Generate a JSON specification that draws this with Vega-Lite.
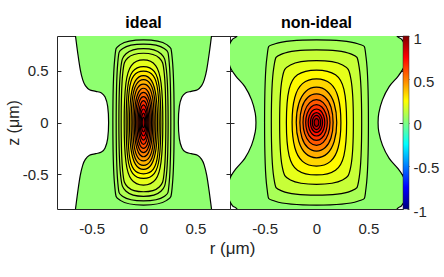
{
"$schema":"https://vega.github.io/schema/vega-lite/v6.json",
"autosize":{"type":"pad"},
"padding":{"left":5,"top":14,"right":5,"bottom":5},
"bounds":"flush",
"spacing":0,
"config":{"font":"Liberation Sans","view":{"stroke":null},
"axis":{"grid":false,"domainColor":"#262626","domainWidth":1,"tickColor":"#262626","tickSize":-4,"labelColor":"#262626","labelFontSize":15,"titleColor":"#262626","titleFontSize":16,"titleFontWeight":"normal","zindex":1},
"title":{"fontSize":16,"fontWeight":"bold","color":"#000000","offset":5,"anchor":"middle"}},
"resolve":{"scale":{"x":"independent","y":"independent"},"axis":{"x":"independent","y":"independent"}},
"datasets":{
"A":[
{"v":0.03,"i":0,"r":0,"z":0.92},{"v":0.03,"i":1,"r":-0.665,"z":0.9},{"v":0.03,"i":2,"r":-0.655,"z":0.833},{"v":0.03,"i":3,"r":-0.633,"z":0.667},{"v":0.03,"i":4,"r":-0.609,"z":0.51},{"v":0.03,"i":5,"r":-0.585,"z":0.41},{"v":0.03,"i":6,"r":-0.56,"z":0.355},{"v":0.03,"i":7,"r":-0.52,"z":0.316},{"v":0.03,"i":8,"r":-0.46,"z":0.3},{"v":0.03,"i":9,"r":-0.405,"z":0.285},{"v":0.03,"i":10,"r":-0.37,"z":0.245},{"v":0.03,"i":11,"r":-0.345,"z":0.155},{"v":0.03,"i":12,"r":-0.336,"z":0},{"v":0.03,"i":13,"r":-0.345,"z":-0.155},{"v":0.03,"i":14,"r":-0.37,"z":-0.245},{"v":0.03,"i":15,"r":-0.405,"z":-0.285},{"v":0.03,"i":16,"r":-0.46,"z":-0.3},{"v":0.03,"i":17,"r":-0.52,"z":-0.316},{"v":0.03,"i":18,"r":-0.56,"z":-0.355},{"v":0.03,"i":19,"r":-0.585,"z":-0.41},{"v":0.03,"i":20,"r":-0.609,"z":-0.51},{"v":0.03,"i":21,"r":-0.633,"z":-0.667},{"v":0.03,"i":22,"r":-0.655,"z":-0.833},{"v":0.03,"i":23,"r":-0.665,"z":-0.9},{"v":0.03,"i":24,"r":0,"z":-0.92},{"v":0.03,"i":25,"r":0.665,"z":-0.9},{"v":0.03,"i":26,"r":0.655,"z":-0.833},{"v":0.03,"i":27,"r":0.633,"z":-0.667},{"v":0.03,"i":28,"r":0.609,"z":-0.51},{"v":0.03,"i":29,"r":0.585,"z":-0.41},{"v":0.03,"i":30,"r":0.56,"z":-0.355},{"v":0.03,"i":31,"r":0.52,"z":-0.316},{"v":0.03,"i":32,"r":0.46,"z":-0.3},{"v":0.03,"i":33,"r":0.405,"z":-0.285},{"v":0.03,"i":34,"r":0.37,"z":-0.245},{"v":0.03,"i":35,"r":0.345,"z":-0.155},{"v":0.03,"i":36,"r":0.336,"z":0},{"v":0.03,"i":37,"r":0.345,"z":0.155},{"v":0.03,"i":38,"r":0.37,"z":0.245},{"v":0.03,"i":39,"r":0.405,"z":0.285},{"v":0.03,"i":40,"r":0.46,"z":0.3},{"v":0.03,"i":41,"r":0.52,"z":0.316},{"v":0.03,"i":42,"r":0.56,"z":0.355},{"v":0.03,"i":43,"r":0.585,"z":0.41},{"v":0.03,"i":44,"r":0.609,"z":0.51},{"v":0.03,"i":45,"r":0.633,"z":0.667},{"v":0.03,"i":46,"r":0.655,"z":0.833},{"v":0.03,"i":47,"r":0.665,"z":0.9},
{"v":0.06,"i":0,"r":0.295,"z":0},{"v":0.06,"i":1,"r":0.278,"z":0.603},{"v":0.06,"i":2,"r":0.224,"z":0.75},{"v":0.06,"i":3,"r":0,"z":0.795},{"v":0.06,"i":4,"r":-0.224,"z":0.75},{"v":0.06,"i":5,"r":-0.278,"z":0.603},{"v":0.06,"i":6,"r":-0.295,"z":0},{"v":0.06,"i":7,"r":-0.278,"z":-0.603},{"v":0.06,"i":8,"r":-0.224,"z":-0.75},{"v":0.06,"i":9,"r":0,"z":-0.795},{"v":0.06,"i":10,"r":0.224,"z":-0.75},{"v":0.06,"i":11,"r":0.278,"z":-0.603},
{"v":0.09,"i":0,"r":0.263,"z":0},{"v":0.09,"i":1,"r":0.248,"z":0.572},{"v":0.09,"i":2,"r":0.199,"z":0.712},{"v":0.09,"i":3,"r":0,"z":0.754},{"v":0.09,"i":4,"r":-0.199,"z":0.712},{"v":0.09,"i":5,"r":-0.248,"z":0.572},{"v":0.09,"i":6,"r":-0.263,"z":0},{"v":0.09,"i":7,"r":-0.248,"z":-0.572},{"v":0.09,"i":8,"r":-0.199,"z":-0.712},{"v":0.09,"i":9,"r":0,"z":-0.754},{"v":0.09,"i":10,"r":0.199,"z":-0.712},{"v":0.09,"i":11,"r":0.248,"z":-0.572},
{"v":0.12,"i":0,"r":0.237,"z":0},{"v":0.12,"i":1,"r":0.221,"z":0.503},{"v":0.12,"i":2,"r":0.168,"z":0.662},{"v":0.12,"i":3,"r":0,"z":0.711},{"v":0.12,"i":4,"r":-0.168,"z":0.662},{"v":0.12,"i":5,"r":-0.221,"z":0.503},{"v":0.12,"i":6,"r":-0.237,"z":0},{"v":0.12,"i":7,"r":-0.221,"z":-0.503},{"v":0.12,"i":8,"r":-0.168,"z":-0.662},{"v":0.12,"i":9,"r":0,"z":-0.711},{"v":0.12,"i":10,"r":0.168,"z":-0.662},{"v":0.12,"i":11,"r":0.221,"z":-0.503},
{"v":0.15,"i":0,"r":0.215,"z":0},{"v":0.15,"i":1,"r":0.2,"z":0.472},{"v":0.15,"i":2,"r":0.152,"z":0.621},{"v":0.15,"i":3,"r":0,"z":0.667},{"v":0.15,"i":4,"r":-0.152,"z":0.621},{"v":0.15,"i":5,"r":-0.2,"z":0.472},{"v":0.15,"i":6,"r":-0.215,"z":0},{"v":0.15,"i":7,"r":-0.2,"z":-0.472},{"v":0.15,"i":8,"r":-0.152,"z":-0.621},{"v":0.15,"i":9,"r":0,"z":-0.667},{"v":0.15,"i":10,"r":0.152,"z":-0.621},{"v":0.15,"i":11,"r":0.2,"z":-0.472},
{"v":0.2,"i":0,"r":0.186,"z":0},{"v":0.2,"i":1,"r":0.169,"z":0.38},{"v":0.2,"i":2,"r":0.117,"z":0.548},{"v":0.2,"i":3,"r":0,"z":0.603},{"v":0.2,"i":4,"r":-0.117,"z":0.548},{"v":0.2,"i":5,"r":-0.169,"z":0.38},{"v":0.2,"i":6,"r":-0.186,"z":0},{"v":0.2,"i":7,"r":-0.169,"z":-0.38},{"v":0.2,"i":8,"r":-0.117,"z":-0.548},{"v":0.2,"i":9,"r":0,"z":-0.603},{"v":0.2,"i":10,"r":0.117,"z":-0.548},{"v":0.2,"i":11,"r":0.169,"z":-0.38},
{"v":0.25,"i":0,"r":0.167,"z":0},{"v":0.25,"i":1,"r":0.152,"z":0.339},{"v":0.25,"i":2,"r":0.105,"z":0.489},{"v":0.25,"i":3,"r":0,"z":0.538},{"v":0.25,"i":4,"r":-0.105,"z":0.489},{"v":0.25,"i":5,"r":-0.152,"z":0.339},{"v":0.25,"i":6,"r":-0.167,"z":0},{"v":0.25,"i":7,"r":-0.152,"z":-0.339},{"v":0.25,"i":8,"r":-0.105,"z":-0.489},{"v":0.25,"i":9,"r":0,"z":-0.538},{"v":0.25,"i":10,"r":0.105,"z":-0.489},{"v":0.25,"i":11,"r":0.152,"z":-0.339},
{"v":0.3,"i":0,"r":0.151,"z":0},{"v":0.3,"i":1,"r":0.137,"z":0.311},{"v":0.3,"i":2,"r":0.095,"z":0.449},{"v":0.3,"i":3,"r":0,"z":0.494},{"v":0.3,"i":4,"r":-0.095,"z":0.449},{"v":0.3,"i":5,"r":-0.137,"z":0.311},{"v":0.3,"i":6,"r":-0.151,"z":0},{"v":0.3,"i":7,"r":-0.137,"z":-0.311},{"v":0.3,"i":8,"r":-0.095,"z":-0.449},{"v":0.3,"i":9,"r":0,"z":-0.494},{"v":0.3,"i":10,"r":0.095,"z":-0.449},{"v":0.3,"i":11,"r":0.137,"z":-0.311},
{"v":0.35,"i":0,"r":0.135,"z":0},{"v":0.35,"i":1,"r":0.12,"z":0.259},{"v":0.35,"i":2,"r":0.077,"z":0.403},{"v":0.35,"i":3,"r":0,"z":0.452},{"v":0.35,"i":4,"r":-0.077,"z":0.403},{"v":0.35,"i":5,"r":-0.12,"z":0.259},{"v":0.35,"i":6,"r":-0.135,"z":0},{"v":0.35,"i":7,"r":-0.12,"z":-0.259},{"v":0.35,"i":8,"r":-0.077,"z":-0.403},{"v":0.35,"i":9,"r":0,"z":-0.452},{"v":0.35,"i":10,"r":0.077,"z":-0.403},{"v":0.35,"i":11,"r":0.12,"z":-0.259},
{"v":0.4,"i":0,"r":0.119,"z":0},{"v":0.4,"i":1,"r":0.106,"z":0.237},{"v":0.4,"i":2,"r":0.068,"z":0.368},{"v":0.4,"i":3,"r":0,"z":0.413},{"v":0.4,"i":4,"r":-0.068,"z":0.368},{"v":0.4,"i":5,"r":-0.106,"z":0.237},{"v":0.4,"i":6,"r":-0.119,"z":0},{"v":0.4,"i":7,"r":-0.106,"z":-0.237},{"v":0.4,"i":8,"r":-0.068,"z":-0.368},{"v":0.4,"i":9,"r":0,"z":-0.413},{"v":0.4,"i":10,"r":0.068,"z":-0.368},{"v":0.4,"i":11,"r":0.106,"z":-0.237},
{"v":0.45,"i":0,"r":0.103,"z":0},{"v":0.45,"i":1,"r":0.092,"z":0.212},{"v":0.45,"i":2,"r":0.059,"z":0.33},{"v":0.45,"i":3,"r":0,"z":0.37},{"v":0.45,"i":4,"r":-0.059,"z":0.33},{"v":0.45,"i":5,"r":-0.092,"z":0.212},{"v":0.45,"i":6,"r":-0.103,"z":0},{"v":0.45,"i":7,"r":-0.092,"z":-0.212},{"v":0.45,"i":8,"r":-0.059,"z":-0.33},{"v":0.45,"i":9,"r":0,"z":-0.37},{"v":0.45,"i":10,"r":0.059,"z":-0.33},{"v":0.45,"i":11,"r":0.092,"z":-0.212},
{"v":0.5,"i":0,"r":0.09,"z":0},{"v":0.5,"i":1,"r":0.079,"z":0.176},{"v":0.5,"i":2,"r":0.048,"z":0.29},{"v":0.5,"i":3,"r":0,"z":0.33},{"v":0.5,"i":4,"r":-0.048,"z":0.29},{"v":0.5,"i":5,"r":-0.079,"z":0.176},{"v":0.5,"i":6,"r":-0.09,"z":0},{"v":0.5,"i":7,"r":-0.079,"z":-0.176},{"v":0.5,"i":8,"r":-0.048,"z":-0.29},{"v":0.5,"i":9,"r":0,"z":-0.33},{"v":0.5,"i":10,"r":0.048,"z":-0.29},{"v":0.5,"i":11,"r":0.079,"z":-0.176},
{"v":0.55,"i":0,"r":0.077,"z":0},{"v":0.55,"i":1,"r":0.068,"z":0.155},{"v":0.55,"i":2,"r":0.041,"z":0.255},{"v":0.55,"i":3,"r":0,"z":0.29},{"v":0.55,"i":4,"r":-0.041,"z":0.255},{"v":0.55,"i":5,"r":-0.068,"z":0.155},{"v":0.55,"i":6,"r":-0.077,"z":0},{"v":0.55,"i":7,"r":-0.068,"z":-0.155},{"v":0.55,"i":8,"r":-0.041,"z":-0.255},{"v":0.55,"i":9,"r":0,"z":-0.29},{"v":0.55,"i":10,"r":0.041,"z":-0.255},{"v":0.55,"i":11,"r":0.068,"z":-0.155},
{"v":0.6,"i":0,"r":0.064,"z":0},{"v":0.6,"i":1,"r":0.056,"z":0.133},{"v":0.6,"i":2,"r":0.034,"z":0.22},{"v":0.6,"i":3,"r":0,"z":0.25},{"v":0.6,"i":4,"r":-0.034,"z":0.22},{"v":0.6,"i":5,"r":-0.056,"z":0.133},{"v":0.6,"i":6,"r":-0.064,"z":0},{"v":0.6,"i":7,"r":-0.056,"z":-0.133},{"v":0.6,"i":8,"r":-0.034,"z":-0.22},{"v":0.6,"i":9,"r":0,"z":-0.25},{"v":0.6,"i":10,"r":0.034,"z":-0.22},{"v":0.6,"i":11,"r":0.056,"z":-0.133},
{"v":0.66,"i":0,"r":0.052,"z":0},{"v":0.66,"i":1,"r":0.045,"z":0.105},{"v":0.66,"i":2,"r":0.026,"z":0.182},{"v":0.66,"i":3,"r":0,"z":0.21},{"v":0.66,"i":4,"r":-0.026,"z":0.182},{"v":0.66,"i":5,"r":-0.045,"z":0.105},{"v":0.66,"i":6,"r":-0.052,"z":0},{"v":0.66,"i":7,"r":-0.045,"z":-0.105},{"v":0.66,"i":8,"r":-0.026,"z":-0.182},{"v":0.66,"i":9,"r":0,"z":-0.21},{"v":0.66,"i":10,"r":0.026,"z":-0.182},{"v":0.66,"i":11,"r":0.045,"z":-0.105},
{"v":0.72,"i":0,"r":0.042,"z":0},{"v":0.72,"i":1,"r":0.036,"z":0.085},{"v":0.72,"i":2,"r":0.021,"z":0.147},{"v":0.72,"i":3,"r":0,"z":0.17},{"v":0.72,"i":4,"r":-0.021,"z":0.147},{"v":0.72,"i":5,"r":-0.036,"z":0.085},{"v":0.72,"i":6,"r":-0.042,"z":0},{"v":0.72,"i":7,"r":-0.036,"z":-0.085},{"v":0.72,"i":8,"r":-0.021,"z":-0.147},{"v":0.72,"i":9,"r":0,"z":-0.17},{"v":0.72,"i":10,"r":0.021,"z":-0.147},{"v":0.72,"i":11,"r":0.036,"z":-0.085},
{"v":0.78,"i":0,"r":0.032,"z":0},{"v":0.78,"i":1,"r":0.028,"z":0.065},{"v":0.78,"i":2,"r":0.016,"z":0.113},{"v":0.78,"i":3,"r":0,"z":0.13},{"v":0.78,"i":4,"r":-0.016,"z":0.113},{"v":0.78,"i":5,"r":-0.028,"z":0.065},{"v":0.78,"i":6,"r":-0.032,"z":0},{"v":0.78,"i":7,"r":-0.028,"z":-0.065},{"v":0.78,"i":8,"r":-0.016,"z":-0.113},{"v":0.78,"i":9,"r":0,"z":-0.13},{"v":0.78,"i":10,"r":0.016,"z":-0.113},{"v":0.78,"i":11,"r":0.028,"z":-0.065},
{"v":0.85,"i":0,"r":0.022,"z":0},{"v":0.85,"i":1,"r":0.019,"z":0.045},{"v":0.85,"i":2,"r":0.011,"z":0.078},{"v":0.85,"i":3,"r":0,"z":0.09},{"v":0.85,"i":4,"r":-0.011,"z":0.078},{"v":0.85,"i":5,"r":-0.019,"z":0.045},{"v":0.85,"i":6,"r":-0.022,"z":0},{"v":0.85,"i":7,"r":-0.019,"z":-0.045},{"v":0.85,"i":8,"r":-0.011,"z":-0.078},{"v":0.85,"i":9,"r":0,"z":-0.09},{"v":0.85,"i":10,"r":0.011,"z":-0.078},{"v":0.85,"i":11,"r":0.019,"z":-0.045},
{"v":0.93,"i":0,"r":0.013,"z":0},{"v":0.93,"i":1,"r":0.011,"z":0.025},{"v":0.93,"i":2,"r":0.007,"z":0.043},{"v":0.93,"i":3,"r":0,"z":0.05},{"v":0.93,"i":4,"r":-0.007,"z":0.043},{"v":0.93,"i":5,"r":-0.011,"z":0.025},{"v":0.93,"i":6,"r":-0.013,"z":0},{"v":0.93,"i":7,"r":-0.011,"z":-0.025},{"v":0.93,"i":8,"r":-0.007,"z":-0.043},{"v":0.93,"i":9,"r":0,"z":-0.05},{"v":0.93,"i":10,"r":0.007,"z":-0.043},{"v":0.93,"i":11,"r":0.011,"z":-0.025}
],
"B":[
{"v":0.03,"i":0,"r":0,"z":0.95},{"v":0.03,"i":1,"r":-0.72,"z":0.93},{"v":0.03,"i":2,"r":-0.765,"z":0.833},{"v":0.03,"i":3,"r":-0.81,"z":0.8},{"v":0.03,"i":4,"r":-0.845,"z":0.73},{"v":0.03,"i":5,"r":-0.85,"z":0.62},{"v":0.03,"i":6,"r":-0.83,"z":0.53},{"v":0.03,"i":7,"r":-0.775,"z":0.445},{"v":0.03,"i":8,"r":-0.69,"z":0.346},{"v":0.03,"i":9,"r":-0.625,"z":0.218},{"v":0.03,"i":10,"r":-0.59,"z":0.09},{"v":0.03,"i":11,"r":-0.583,"z":0},{"v":0.03,"i":12,"r":-0.59,"z":-0.09},{"v":0.03,"i":13,"r":-0.625,"z":-0.218},{"v":0.03,"i":14,"r":-0.69,"z":-0.346},{"v":0.03,"i":15,"r":-0.775,"z":-0.445},{"v":0.03,"i":16,"r":-0.83,"z":-0.53},{"v":0.03,"i":17,"r":-0.85,"z":-0.62},{"v":0.03,"i":18,"r":-0.845,"z":-0.73},{"v":0.03,"i":19,"r":-0.81,"z":-0.8},{"v":0.03,"i":20,"r":-0.765,"z":-0.833},{"v":0.03,"i":21,"r":-0.72,"z":-0.93},{"v":0.03,"i":22,"r":0,"z":-0.95},{"v":0.03,"i":23,"r":0.73,"z":-0.93},{"v":0.03,"i":24,"r":0.775,"z":-0.833},{"v":0.03,"i":25,"r":0.82,"z":-0.8},{"v":0.03,"i":26,"r":0.855,"z":-0.73},{"v":0.03,"i":27,"r":0.86,"z":-0.62},{"v":0.03,"i":28,"r":0.84,"z":-0.53},{"v":0.03,"i":29,"r":0.785,"z":-0.445},{"v":0.03,"i":30,"r":0.7,"z":-0.346},{"v":0.03,"i":31,"r":0.635,"z":-0.218},{"v":0.03,"i":32,"r":0.6,"z":-0.09},{"v":0.03,"i":33,"r":0.593,"z":0},{"v":0.03,"i":34,"r":0.6,"z":0.09},{"v":0.03,"i":35,"r":0.635,"z":0.218},{"v":0.03,"i":36,"r":0.7,"z":0.346},{"v":0.03,"i":37,"r":0.785,"z":0.445},{"v":0.03,"i":38,"r":0.84,"z":0.53},{"v":0.03,"i":39,"r":0.86,"z":0.62},{"v":0.03,"i":40,"r":0.855,"z":0.73},{"v":0.03,"i":41,"r":0.82,"z":0.8},{"v":0.03,"i":42,"r":0.775,"z":0.833},{"v":0.03,"i":43,"r":0.73,"z":0.93},
{"v":0.08,"i":0,"r":0.5,"z":0},{"v":0.08,"i":1,"r":0.477,"z":0.631},{"v":0.08,"i":2,"r":0.397,"z":0.758},{"v":0.08,"i":3,"r":0,"z":0.795},{"v":0.08,"i":4,"r":-0.397,"z":0.758},{"v":0.08,"i":5,"r":-0.477,"z":0.631},{"v":0.08,"i":6,"r":-0.5,"z":0},{"v":0.08,"i":7,"r":-0.477,"z":-0.631},{"v":0.08,"i":8,"r":-0.397,"z":-0.758},{"v":0.08,"i":9,"r":0,"z":-0.795},{"v":0.08,"i":10,"r":0.397,"z":-0.758},{"v":0.08,"i":11,"r":0.477,"z":-0.631},
{"v":0.14,"i":0,"r":0.435,"z":0},{"v":0.14,"i":1,"r":0.411,"z":0.531},{"v":0.14,"i":2,"r":0.33,"z":0.661},{"v":0.14,"i":3,"r":0,"z":0.7},{"v":0.14,"i":4,"r":-0.33,"z":0.661},{"v":0.14,"i":5,"r":-0.411,"z":0.531},{"v":0.14,"i":6,"r":-0.435,"z":0},{"v":0.14,"i":7,"r":-0.411,"z":-0.531},{"v":0.14,"i":8,"r":-0.33,"z":-0.661},{"v":0.14,"i":9,"r":0,"z":-0.7},{"v":0.14,"i":10,"r":0.33,"z":-0.661},{"v":0.14,"i":11,"r":0.411,"z":-0.531},
{"v":0.2,"i":0,"r":0.355,"z":0},{"v":0.2,"i":1,"r":0.331,"z":0.421},{"v":0.2,"i":2,"r":0.251,"z":0.554},{"v":0.2,"i":3,"r":0,"z":0.595},{"v":0.2,"i":4,"r":-0.251,"z":0.554},{"v":0.2,"i":5,"r":-0.331,"z":0.421},{"v":0.2,"i":6,"r":-0.355,"z":0},{"v":0.2,"i":7,"r":-0.331,"z":-0.421},{"v":0.2,"i":8,"r":-0.251,"z":-0.554},{"v":0.2,"i":9,"r":0,"z":-0.595},{"v":0.2,"i":10,"r":0.251,"z":-0.554},{"v":0.2,"i":11,"r":0.331,"z":-0.421},
{"v":0.26,"i":0,"r":0.29,"z":0},{"v":0.26,"i":1,"r":0.264,"z":0.318},{"v":0.26,"i":2,"r":0.183,"z":0.459},{"v":0.26,"i":3,"r":0,"z":0.505},{"v":0.26,"i":4,"r":-0.183,"z":0.459},{"v":0.26,"i":5,"r":-0.264,"z":0.318},{"v":0.26,"i":6,"r":-0.29,"z":0},{"v":0.26,"i":7,"r":-0.264,"z":-0.318},{"v":0.26,"i":8,"r":-0.183,"z":-0.459},{"v":0.26,"i":9,"r":0,"z":-0.505},{"v":0.26,"i":10,"r":0.183,"z":-0.459},{"v":0.26,"i":11,"r":0.264,"z":-0.318},
{"v":0.33,"i":0,"r":0.235,"z":0},{"v":0.33,"i":1,"r":0.209,"z":0.241},{"v":0.33,"i":2,"r":0.135,"z":0.374},{"v":0.33,"i":3,"r":0,"z":0.42},{"v":0.33,"i":4,"r":-0.135,"z":0.374},{"v":0.33,"i":5,"r":-0.209,"z":0.241},{"v":0.33,"i":6,"r":-0.235,"z":0},{"v":0.33,"i":7,"r":-0.209,"z":-0.241},{"v":0.33,"i":8,"r":-0.135,"z":-0.374},{"v":0.33,"i":9,"r":0,"z":-0.42},{"v":0.33,"i":10,"r":0.135,"z":-0.374},{"v":0.33,"i":11,"r":0.209,"z":-0.241},
{"v":0.41,"i":0,"r":0.195,"z":0},{"v":0.41,"i":1,"r":0.171,"z":0.181},{"v":0.41,"i":2,"r":0.104,"z":0.299},{"v":0.41,"i":3,"r":0,"z":0.34},{"v":0.41,"i":4,"r":-0.104,"z":0.299},{"v":0.41,"i":5,"r":-0.171,"z":0.181},{"v":0.41,"i":6,"r":-0.195,"z":0},{"v":0.41,"i":7,"r":-0.171,"z":-0.181},{"v":0.41,"i":8,"r":-0.104,"z":-0.299},{"v":0.41,"i":9,"r":0,"z":-0.34},{"v":0.41,"i":10,"r":0.104,"z":-0.299},{"v":0.41,"i":11,"r":0.171,"z":-0.181},
{"v":0.5,"i":0,"r":0.16,"z":0},{"v":0.5,"i":1,"r":0.14,"z":0.147},{"v":0.5,"i":2,"r":0.085,"z":0.241},{"v":0.5,"i":3,"r":0,"z":0.275},{"v":0.5,"i":4,"r":-0.085,"z":0.241},{"v":0.5,"i":5,"r":-0.14,"z":0.147},{"v":0.5,"i":6,"r":-0.16,"z":0},{"v":0.5,"i":7,"r":-0.14,"z":-0.147},{"v":0.5,"i":8,"r":-0.085,"z":-0.241},{"v":0.5,"i":9,"r":0,"z":-0.275},{"v":0.5,"i":10,"r":0.085,"z":-0.241},{"v":0.5,"i":11,"r":0.14,"z":-0.147},
{"v":0.58,"i":0,"r":0.13,"z":0},{"v":0.58,"i":1,"r":0.113,"z":0.11},{"v":0.58,"i":2,"r":0.065,"z":0.191},{"v":0.58,"i":3,"r":0,"z":0.22},{"v":0.58,"i":4,"r":-0.065,"z":0.191},{"v":0.58,"i":5,"r":-0.113,"z":0.11},{"v":0.58,"i":6,"r":-0.13,"z":0},{"v":0.58,"i":7,"r":-0.113,"z":-0.11},{"v":0.58,"i":8,"r":-0.065,"z":-0.191},{"v":0.58,"i":9,"r":0,"z":-0.22},{"v":0.58,"i":10,"r":0.065,"z":-0.191},{"v":0.58,"i":11,"r":0.113,"z":-0.11},
{"v":0.65,"i":0,"r":0.104,"z":0},{"v":0.65,"i":1,"r":0.09,"z":0.086},{"v":0.65,"i":2,"r":0.052,"z":0.149},{"v":0.65,"i":3,"r":0,"z":0.172},{"v":0.65,"i":4,"r":-0.052,"z":0.149},{"v":0.65,"i":5,"r":-0.09,"z":0.086},{"v":0.65,"i":6,"r":-0.104,"z":0},{"v":0.65,"i":7,"r":-0.09,"z":-0.086},{"v":0.65,"i":8,"r":-0.052,"z":-0.149},{"v":0.65,"i":9,"r":0,"z":-0.172},{"v":0.65,"i":10,"r":0.052,"z":-0.149},{"v":0.65,"i":11,"r":0.09,"z":-0.086},
{"v":0.72,"i":0,"r":0.08,"z":0},{"v":0.72,"i":1,"r":0.069,"z":0.065},{"v":0.72,"i":2,"r":0.04,"z":0.113},{"v":0.72,"i":3,"r":0,"z":0.13},{"v":0.72,"i":4,"r":-0.04,"z":0.113},{"v":0.72,"i":5,"r":-0.069,"z":0.065},{"v":0.72,"i":6,"r":-0.08,"z":0},{"v":0.72,"i":7,"r":-0.069,"z":-0.065},{"v":0.72,"i":8,"r":-0.04,"z":-0.113},{"v":0.72,"i":9,"r":0,"z":-0.13},{"v":0.72,"i":10,"r":0.04,"z":-0.113},{"v":0.72,"i":11,"r":0.069,"z":-0.065},
{"v":0.78,"i":0,"r":0.058,"z":0},{"v":0.78,"i":1,"r":0.05,"z":0.048},{"v":0.78,"i":2,"r":0.029,"z":0.082},{"v":0.78,"i":3,"r":0,"z":0.095},{"v":0.78,"i":4,"r":-0.029,"z":0.082},{"v":0.78,"i":5,"r":-0.05,"z":0.048},{"v":0.78,"i":6,"r":-0.058,"z":0},{"v":0.78,"i":7,"r":-0.05,"z":-0.048},{"v":0.78,"i":8,"r":-0.029,"z":-0.082},{"v":0.78,"i":9,"r":0,"z":-0.095},{"v":0.78,"i":10,"r":0.029,"z":-0.082},{"v":0.78,"i":11,"r":0.05,"z":-0.048},
{"v":0.84,"i":0,"r":0.04,"z":0},{"v":0.84,"i":1,"r":0.035,"z":0.034},{"v":0.84,"i":2,"r":0.02,"z":0.059},{"v":0.84,"i":3,"r":0,"z":0.068},{"v":0.84,"i":4,"r":-0.02,"z":0.059},{"v":0.84,"i":5,"r":-0.035,"z":0.034},{"v":0.84,"i":6,"r":-0.04,"z":0},{"v":0.84,"i":7,"r":-0.035,"z":-0.034},{"v":0.84,"i":8,"r":-0.02,"z":-0.059},{"v":0.84,"i":9,"r":0,"z":-0.068},{"v":0.84,"i":10,"r":0.02,"z":-0.059},{"v":0.84,"i":11,"r":0.035,"z":-0.034},
{"v":0.9,"i":0,"r":0.022,"z":0},{"v":0.9,"i":1,"r":0.019,"z":0.019},{"v":0.9,"i":2,"r":0.011,"z":0.033},{"v":0.9,"i":3,"r":0,"z":0.038},{"v":0.9,"i":4,"r":-0.011,"z":0.033},{"v":0.9,"i":5,"r":-0.019,"z":0.019},{"v":0.9,"i":6,"r":-0.022,"z":0},{"v":0.9,"i":7,"r":-0.019,"z":-0.019},{"v":0.9,"i":8,"r":-0.011,"z":-0.033},{"v":0.9,"i":9,"r":0,"z":-0.038},{"v":0.9,"i":10,"r":0.011,"z":-0.033},{"v":0.9,"i":11,"r":0.019,"z":-0.019}
],
"C":[{"lo":-1,"hi":1}]},
"hconcat":[
{"width":173,"height":173,"title":{"text":"ideal"},"data":{"name":"A"},
"resolve":{"axis":{"x":"independent","y":"independent"}},
"layer":[
{"mark":{"type":"line","interpolate":"cardinal-closed","strokeWidth":0,"clip":true},
"encoding":{
"x":{"field":"r","type":"quantitative","scale":{"domain":[-0.833,0.833],"nice":false,"zero":false},"axis":{"orient":"bottom","values":[-0.5,0,0.5],"format":".1~f","title":"r (μm)","titleX":175,"titleFontSize":17,"labelPadding":16,"titlePadding":4,"labelExpr":"replace(datum.label, '−', '-')"}},
"y":{"field":"z","type":"quantitative","scale":{"domain":[-0.833,0.833],"nice":false,"zero":false},"axis":{"orient":"left","values":[-0.5,0,0.5],"format":".1~f","title":"z (μm)","titleX":-36,"labelPadding":13,"labelExpr":"replace(datum.label, '−', '-')"}},
"detail":{"field":"v","type":"quantitative"},
"order":{"field":"i","type":"quantitative"},
"fill":{"field":"v","type":"quantitative","scale":{"type":"linear","domain":[-1,-0.75,-0.25,0.25,0.75,1],"range":["#00007f","#0000ff","#00ffff","#ffff00","#ff0000","#7f0000"],"interpolate":"rgb","zero":false,"nice":false},"legend":null}}},
{"mark":{"type":"line","interpolate":"cardinal-closed","stroke":"#000000","strokeWidth":1.2,"clip":true},
"encoding":{
"x":{"field":"r","type":"quantitative","scale":{"domain":[-0.833,0.833],"nice":false,"zero":false},"axis":{"orient":"top","values":[-0.5,0,0.5],"labels":false,"title":null}},
"y":{"field":"z","type":"quantitative","scale":{"domain":[-0.833,0.833],"nice":false,"zero":false},"axis":{"orient":"right","values":[-0.5,0,0.5],"labels":false,"title":null}},
"detail":{"field":"v","type":"quantitative"},
"order":{"field":"i","type":"quantitative"}}}
]},
{"width":173,"height":173,"title":{"text":"non-ideal"},"data":{"name":"B"},
"resolve":{"axis":{"x":"independent","y":"independent"}},
"layer":[
{"mark":{"type":"line","interpolate":"cardinal-closed","strokeWidth":0,"clip":true},
"encoding":{
"x":{"field":"r","type":"quantitative","scale":{"domain":[-0.833,0.833],"nice":false,"zero":false},"axis":{"orient":"bottom","values":[-0.5,0,0.5],"format":".1~f","title":null,"labelPadding":16,"labelExpr":"replace(datum.label, '−', '-')"}},
"y":{"field":"z","type":"quantitative","scale":{"domain":[-0.833,0.833],"nice":false,"zero":false},"axis":{"orient":"left","values":[-0.5,0,0.5],"labels":false,"title":null}},
"detail":{"field":"v","type":"quantitative"},
"order":{"field":"i","type":"quantitative"},
"fill":{"field":"v","type":"quantitative","scale":{"type":"linear","domain":[-1,-0.75,-0.25,0.25,0.75,1],"range":["#00007f","#0000ff","#00ffff","#ffff00","#ff0000","#7f0000"],"interpolate":"rgb","zero":false,"nice":false},"legend":null}}},
{"mark":{"type":"line","interpolate":"cardinal-closed","stroke":"#000000","strokeWidth":1.2,"clip":true},
"encoding":{
"x":{"field":"r","type":"quantitative","scale":{"domain":[-0.833,0.833],"nice":false,"zero":false},"axis":{"orient":"top","values":[-0.5,0,0.5],"labels":false,"title":null}},
"y":{"field":"z","type":"quantitative","scale":{"domain":[-0.833,0.833],"nice":false,"zero":false},"axis":{"orient":"right","values":[-0.5,0,0.5],"labels":false,"title":null}},
"detail":{"field":"v","type":"quantitative"},
"order":{"field":"i","type":"quantitative"}}}
]},
{"width":6,"height":173,"data":{"name":"C"},
"mark":{"type":"rect","stroke":"#262626","strokeWidth":0.5,"fill":{"gradient":"linear","x1":0,"y1":1,"x2":0,"y2":0,"stops":[{"offset":0,"color":"#00007f"},{"offset":0.125,"color":"#0000ff"},{"offset":0.375,"color":"#00ffff"},{"offset":0.625,"color":"#ffff00"},{"offset":0.875,"color":"#ff0000"},{"offset":1,"color":"#7f0000"}]}},
"encoding":{
"y":{"field":"lo","type":"quantitative","scale":{"domain":[-1,1],"nice":false,"zero":false},"axis":{"orient":"right","values":[-1,-0.5,0,0.5,1],"format":".1~f","title":null,"domain":false,"tickSize":-2,"tickColor":"#555555","labelPadding":6,"labelOffset":2,"labelFlush":false,"labelExpr":"replace(datum.label, '−', '-')"}},
"y2":{"field":"hi"}}}
]
}
